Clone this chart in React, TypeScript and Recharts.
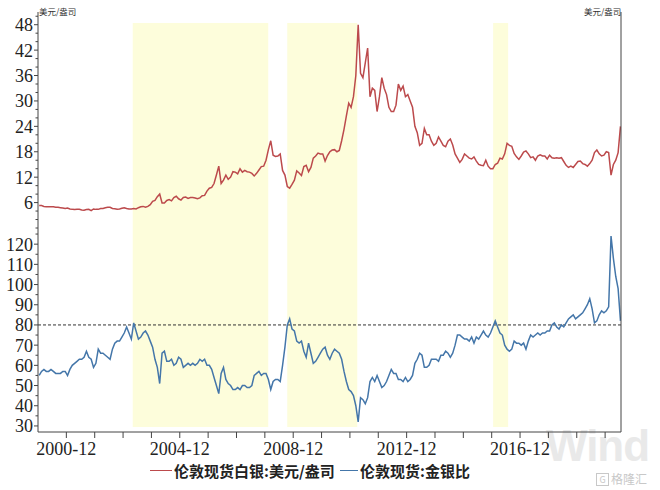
import React from 'react';
import { LineChart, Line, XAxis, YAxis, ReferenceArea, ReferenceLine } from 'recharts';

// monthly values, 2000-01 .. 2020-07
const startYear = 2000;

const silver = [
  5.3, 5.3, 5.1, 5.0, 5.0, 5.0, 5.0, 4.9, 4.9, 4.8, 4.7, 4.6, // 2000
  4.7, 4.5, 4.4, 4.35, 4.4, 4.4, 4.25, 4.2, 4.35, 4.4, 4.1, 4.5, // 2001
  4.4, 4.4, 4.6, 4.6, 4.8, 4.9, 4.9, 4.6, 4.55, 4.45, 4.5, 4.65, // 2002
  4.8, 4.6, 4.5, 4.5, 4.6, 4.5, 4.8, 5.0, 5.1, 4.9, 5.1, 5.5, // 2003
  6.3, 6.5, 7.4, 8.0, 5.9, 5.9, 6.5, 6.7, 6.4, 7.2, 7.5, 6.9, // 2004
  6.6, 7.2, 7.3, 7.0, 7.2, 7.2, 7.1, 6.9, 7.1, 7.6, 7.7, 8.7, // 2005
  9.4, 9.6, 10.5, 12.5, 14.6, 10.5, 11.3, 12.5, 11.5, 12.0, 13.3, 13.2, // 2006
  12.8, 14.0, 13.2, 13.6, 13.3, 13.2, 12.9, 12.3, 12.9, 13.7, 14.5, 14.6, // 2007
  16.0, 18.5, 20.6, 17.2, 16.9, 17.0, 17.5, 13.6, 12.5, 9.8, 9.4, 10.3, // 2008
  11.3, 13.5, 13.0, 12.4, 14.5, 14.8, 13.3, 14.3, 16.5, 17.0, 17.7, 17.5, // 2009
  17.5, 15.8, 17.1, 18.0, 18.4, 18.5, 18.0, 18.3, 20.6, 23.3, 26.5, 29.5, // 2010
  28.5, 31.0, 36.0, 48.0, 36.5, 35.5, 39.0, 42.5, 31.0, 33.0, 32.5, 27.5, // 2011
  31.0, 35.5, 33.0, 31.5, 28.5, 27.5, 27.5, 29.0, 34.0, 32.5, 33.5, 31.0, // 2012
  31.5, 30.0, 28.5, 24.0, 22.5, 19.5, 20.0, 23.5, 22.0, 22.0, 20.5, 19.5, // 2013
  20.0, 21.5, 20.5, 19.5, 19.2, 20.5, 21.0, 19.6, 17.5, 16.5, 15.5, 16.2, // 2014
  17.5, 17.0, 16.5, 16.3, 16.8, 15.8, 15.0, 14.8, 14.7, 16.0, 14.6, 14.0, // 2015
  14.0, 15.0, 15.3, 16.5, 16.3, 17.5, 20.0, 19.5, 19.3, 17.6, 16.8, 16.2, // 2016
  17.0, 17.9, 18.2, 17.5, 16.6, 16.8, 16.0, 17.0, 17.3, 17.0, 17.0, 16.3, // 2017
  17.2, 16.6, 16.5, 16.6, 16.5, 16.6, 15.7, 14.8, 14.3, 14.6, 14.3, 15.0, // 2018
  15.7, 15.8, 15.2, 15.0, 14.6, 15.2, 16.0, 17.8, 18.4, 17.5, 17.0, 17.2, // 2019
  18.0, 17.8, 12.5, 15.0, 16.0, 17.8, 24.0, // 2020
];

const ratio = [
  55, 57, 58, 57, 57, 58, 57, 56, 56, 56, 57, 57, // 2000
  55, 58, 60, 61, 62, 63, 63, 64, 67, 64, 63, 59, // 2001
  61, 68, 66, 66, 65, 64, 63, 68, 71, 72, 72, 74, // 2002
  76, 79, 76, 73, 81, 77, 73, 74, 76, 77, 75, 72, // 2003
  69, 63, 59, 51, 66, 67, 62, 62, 63, 60, 61, 64, // 2004
  63, 59, 60, 61, 60, 61, 60, 61, 63, 62, 63, 60, // 2005
  60, 58, 54, 50, 46, 56, 59, 53, 51, 50, 48, 48, // 2006
  49, 48, 50, 50, 49, 49, 50, 55, 56, 57, 55, 56, // 2007
  56, 53, 48, 52, 53, 53, 52, 60, 69, 80, 83, 78, // 2008
  77, 72, 71, 72, 67, 64, 71, 66, 61, 62, 64, 66, // 2009
  68, 69, 65, 63, 66, 68, 67, 66, 63, 57, 52, 48, // 2010
  47, 45, 40, 32, 44, 43, 41, 44, 52, 54, 52, 55, // 2011
  52, 49, 50, 52, 55, 58, 56, 56, 53, 53, 52, 54, // 2012
  52, 53, 55, 61, 63, 66, 65, 59, 59, 60, 63, 63, // 2013
  63, 62, 65, 65, 67, 66, 64, 66, 70, 75, 75, 74, // 2014
  73, 73, 72, 74, 71, 74, 73, 75, 77, 75, 74, 76, // 2015
  79, 82, 79, 76, 75, 70, 68, 67, 68, 72, 71, 71, // 2016
  70, 71, 68, 72, 75, 74, 75, 76, 75, 76, 76, 77, // 2017
  77, 80, 81, 79, 78, 80, 79, 81, 83, 84, 85, 83, // 2018
  84, 85, 86, 88, 90, 93, 88, 81, 82, 85, 87, 86, // 2019
  87, 89, 124, 113, 104, 98, 82, // 2020
];

// shaded periods, in fractional years
const shaded = [
  { from: 2003.34, to: 2008.12 },
  { from: 2008.79, to: 2011.26 },
  { from: 2016.05, to: 2016.58 },
];

const series = [
  { key: 'silver', name: '伦敦现货白银:美元/盎司', color: '#BC4A4C' },
  { key: 'ratio', name: '伦敦现货:金银比', color: '#4476A9' },
];

const xDomain = [2000, 2020.56];
const xTicks = Array.from({ length: 20 }, (_, i) => 2001 + i);
const labelYears = [2000, 2004, 2008, 2012, 2016];
const silverTicks = Array.from({ length: 26 }, (_, i) => i * 2);
const ratioTicks = Array.from({ length: 20 }, (_, i) => 30 + i * 5);

const data = silver.map((v, i) => ({
  month: `${startYear + Math.floor(i / 12)}-${String((i % 12) + 1).padStart(2, '0')}`,
  t: startYear + Math.floor(i / 12) + ((i % 12) + 0.5) / 12,
  silver: v,
  ratio: ratio[i],
}));

const axisColor = '#444';
const serif = "'Liberation Serif', 'DejaVu Serif', serif";
const cjk = "'Noto Sans CJK SC', sans-serif";

function YTick(props: any) {
  const { x, y, payload, side, every, gap } = props;
  const v = payload.value;
  const major = v % every === 0 && v !== 0;
  const edge = side === 'left' ? x + gap : x - gap;
  const len = major ? 4 : 2.5;
  const x2 = side === 'left' ? edge - len : edge + len;
  return (
    <g>
      <line x1={edge} x2={x2} y1={y} y2={y} stroke={axisColor} strokeWidth={1} />
      {major && (
        <text
          x={x}
          y={y}
          dy="0.36em"
          textAnchor={side === 'left' ? 'end' : 'start'}
          style={{ fontSize: 18, fontFamily: serif, fill: '#222' }}
        >
          {v}
        </text>
      )}
    </g>
  );
}

function XTick(props: any) {
  const { x, y, payload } = props;
  const yr = payload.value - 1;
  if (!labelYears.includes(yr)) return <g />;
  return (
    <text x={x} y={y} dy="0.75em" textAnchor="middle" style={{ fontSize: 18, fontFamily: serif, fill: '#222' }}>
      {`${yr}-12`}
    </text>
  );
}

export default function App() {
  return (
    <div style={{ position: 'absolute', left: 0, top: 0, width: 660, height: 490, background: '#fff', overflow: 'hidden' }}>
      {/* watermark */}
      <div style={{ position: 'absolute', left: 546, top: 424, fontFamily: "'Liberation Sans', sans-serif", fontWeight: 700, fontSize: 44, lineHeight: '44px', color: '#e9e9e9', letterSpacing: -1 }}>
        Wind
      </div>
      <div style={{ position: 'absolute', left: 596, top: 471, fontFamily: cjk, fontSize: 12, lineHeight: '16px', color: '#c8c8c8', display: 'flex', alignItems: 'center' }}>
        <span style={{ border: '1.5px solid #c8c8c8', width: 11, height: 11, lineHeight: '11px', fontSize: 9, textAlign: 'center', marginRight: 2 }}>G</span>
        格隆汇
      </div>

      {/* upper panel: silver price */}
      <div style={{ position: 'absolute', left: 0, top: 0 }}>
        <LineChart width={660} height={240} data={data} margin={{ top: 12, right: 0, bottom: 12, left: 0 }}>
          <XAxis type="number" dataKey="t" domain={xDomain} allowDataOverflow hide />
          <YAxis
            yAxisId="left"
            orientation="left"
            width={38}
            domain={[0, 51]}
            ticks={silverTicks}
            interval={0}
            tickSize={4}
            tickMargin={1}
            tickLine={false}
            axisLine={{ stroke: axisColor }}
            tick={(p: any) => <YTick {...p} side="left" every={6} gap={5} />}
          />
          <YAxis
            yAxisId="right"
            orientation="right"
            width={39}
            domain={[0, 51]}
            ticks={silverTicks}
            interval={0}
            tickSize={4}
            tickMargin={3}
            tickLine={false}
            axisLine={{ stroke: axisColor }}
            tick={(p: any) => <YTick {...p} side="right" every={6} gap={7} />}
          />
          {shaded.map((s, i) => (
            <ReferenceArea key={i} yAxisId="left" x1={s.from} x2={s.to} y1={0} y2={48.4} fill="#FDFDDB" fillOpacity={1} stroke="none" />
          ))}
          <Line yAxisId="left" type="linear" dataKey="silver" stroke={series[0].color} strokeWidth={1.5} dot={false} isAnimationActive={false} />
        </LineChart>
      </div>

      {/* lower panel: gold/silver ratio */}
      <div style={{ position: 'absolute', left: 0, top: 228 }}>
        <LineChart width={660} height={262} data={data} margin={{ top: 0, right: 0, bottom: 28, left: 0 }}>
          <XAxis
            type="number"
            dataKey="t"
            domain={xDomain}
            allowDataOverflow
            ticks={xTicks}
            interval={0}
            height={30}
            tickSize={6}
            tickMargin={3}
            tickLine={{ stroke: axisColor }}
            axisLine={{ stroke: axisColor }}
            tick={(p: any) => <XTick {...p} />}
          />
          <YAxis
            yAxisId="left"
            orientation="left"
            width={38}
            domain={[27, 128]}
            ticks={ratioTicks}
            interval={0}
            tickSize={4}
            tickMargin={1}
            tickLine={false}
            axisLine={{ stroke: axisColor }}
            tick={(p: any) => <YTick {...p} side="left" every={10} gap={5} />}
          />
          <YAxis
            yAxisId="right"
            orientation="right"
            width={39}
            domain={[27, 128]}
            ticks={ratioTicks}
            interval={0}
            tickSize={4}
            tickMargin={3}
            tickLine={false}
            axisLine={{ stroke: axisColor }}
            tick={(p: any) => <YTick {...p} side="right" every={10} gap={7} />}
          />
          {shaded.map((s, i) => (
            <ReferenceArea key={i} yAxisId="left" x1={s.from} x2={s.to} y1={29.5} y2={128} fill="#FDFDDB" fillOpacity={1} stroke="none" />
          ))}
          <ReferenceLine yAxisId="left" y={80} stroke="#333" strokeDasharray="3 2" strokeWidth={1} />
          <Line yAxisId="left" type="linear" dataKey="ratio" stroke={series[1].color} strokeWidth={1.5} dot={false} isAnimationActive={false} />
        </LineChart>
      </div>

      {/* unit labels */}
      <div style={{ position: 'absolute', left: 39, top: 5, fontFamily: cjk, fontSize: 8.5, color: '#333' }}>美元/盎司</div>
      <div style={{ position: 'absolute', left: 584, top: 5, fontFamily: cjk, fontSize: 8.5, color: '#333' }}>美元/盎司</div>

      {/* legend */}
      {series.map((s, i) => (
        <div
          key={s.key}
          style={{ position: 'absolute', left: i === 0 ? 150 : 340, top: 460, display: 'flex', alignItems: 'center', fontFamily: cjk, fontWeight: 700, fontSize: 15, color: '#222' }}
        >
          <span style={{ display: 'inline-block', width: i === 0 ? 22 : 18, height: 1.5, background: s.color, marginRight: 2 }} />
          {s.name}
        </div>
      ))}
    </div>
  );
}
